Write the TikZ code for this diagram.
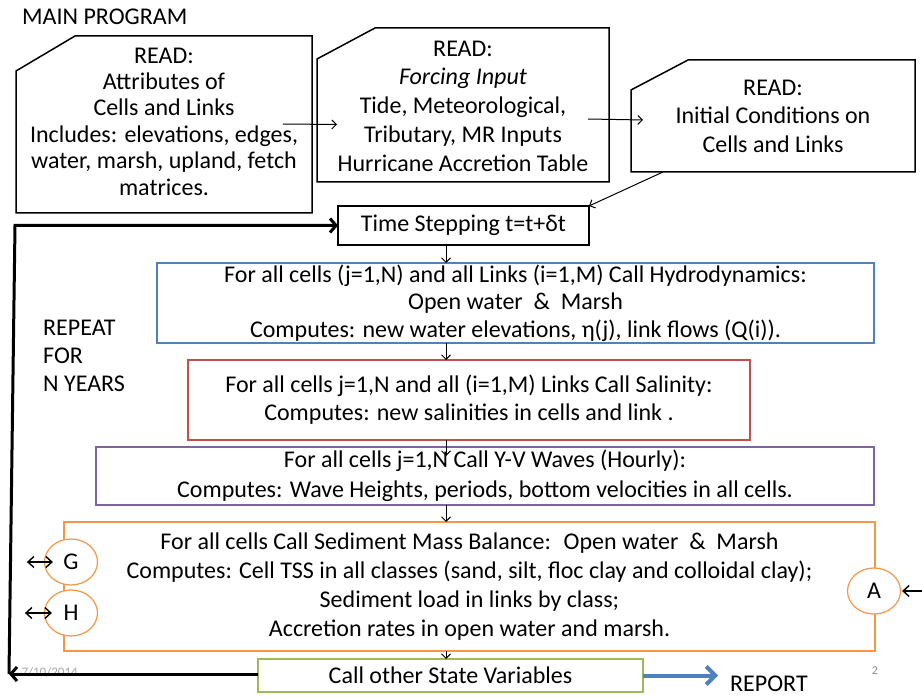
\documentclass[tikz,border=0pt]{standalone}
\usepackage{fontspec}
\setmainfont{Carlito}
\usetikzlibrary{arrows.meta,shapes.geometric}
\definecolor{hydroblue}{HTML}{4F81BD}
\definecolor{salred}{HTML}{C0504D}
\definecolor{wavepurple}{HTML}{8064A2}
\definecolor{sedorange}{HTML}{F79646}
\definecolor{stategreen}{HTML}{9BBB59}
\begin{document}
\begin{tikzpicture}[x=1pt,y=-1pt,
  txt/.style={font=\fontsize{24}{26.4}\selectfont, align=center, text=black, inner sep=0pt},
  holder/.style={inner sep=0pt, outer sep=0pt},
  cardline/.style={draw=black, line width=1.5pt},
  flowbox/.style={draw, line width=1.5pt, fill=white, inner sep=0pt, outer sep=0pt,
    font=\fontsize{24}{28}\selectfont, align=center},
  link/.style={-{Straight Barb[length=4.5pt,width=9pt]}, line width=1pt},
  dlink/.style={{Straight Barb[length=6pt,width=11pt]}-{Straight Barb[length=6pt,width=11pt]}, line width=1.4pt},
  loopline/.style={line width=3pt, -{Straight Barb[length=6pt,width=14pt,line width=3pt]}},
  port/.style={ellipse, draw=sedorange, line width=1.2pt, fill=white,
    minimum width=53pt, minimum height=46pt, inner sep=0pt, font=\fontsize{24}{24}\selectfont},
]
\useasboundingbox (0,0) rectangle (922,698);

% title and side label
\node[txt, anchor=west] (title) at (22,17) {MAIN PROGRAM};
\node[txt, anchor=north west, align=left, font=\fontsize{24}{28}\selectfont] (repeat) at (43,320)
  {REPEAT\\FOR\\N YEARS};

% three input cards (corner cut at top left)
\node[holder, minimum width=296pt, minimum height=177pt] (attr) at (164,124.5) {};
\node[txt] at ([yshift=3pt]attr.center) {READ:\\Attributes of\\Cells and Links\\Includes: elevations, edges,\\water, marsh, upland, fetch\\matrices.};
\draw[cardline] ([yshift=-35pt]attr.north west) -- ([xshift=59pt]attr.north west)
  -- (attr.north east) -- (attr.south east) -- (attr.south west) -- cycle;

\node[holder, minimum width=292pt, minimum height=154pt] (force) at (463,105) {};
\node[txt, font=\fontsize{24}{28.8}\selectfont] at ([yshift=-1pt]force.center)
  {READ:\\\textit{Forcing Input}\\Tide, Meteorological,\\Tributary, MR Inputs\\Hurricane Accretion Table};
\draw[cardline] ([yshift=-31pt]force.north west) -- ([xshift=58pt]force.north west)
  -- (force.north east) -- (force.south east) -- (force.south west) -- cycle;

\node[holder, minimum width=284pt, minimum height=112pt] (init) at (773,116) {};
\node[txt, font=\fontsize{24}{28.5}\selectfont] at (init.center)
  {READ:\\Initial Conditions on\\Cells and Links};
\draw[cardline] ([yshift=-30pt]init.north west) -- ([xshift=57pt]init.north west)
  -- (init.north east) -- (init.south east) -- (init.south west) -- cycle;

% time loop
\node[flowbox, draw=black, minimum width=251pt, minimum height=39pt] (ts) at (463.5,225.5)
  {Time Stepping t=t+δt};

\node[flowbox, draw=hydroblue, minimum width=717pt, minimum height=80pt,
  font=\fontsize{24}{27.5}\selectfont] (hydro) at (515.5,303)
  {For all cells (j=1,N) and all Links (i=1,M) Call Hydrodynamics:\\
   Open water \ \& \ Marsh\\
   Computes: new water elevations, η(j), link flows (Q(i)).};

\node[flowbox, draw=salred, minimum width=562pt, minimum height=80pt] (sal) at (469,400)
  {For all cells j=1,N and all (i=1,M) Links Call Salinity:\\
   Computes: new salinities in cells and link .};

\node[flowbox, draw=wavepurple, minimum width=778pt, minimum height=58pt,
  font=\fontsize{24}{30}\selectfont] (wave) at (485,476)
  {For all cells j=1,N Call Y-V Waves (Hourly):\\
   Computes: Wave Heights, periods, bottom velocities in all cells.};

\node[flowbox, draw=sedorange, minimum width=811pt, minimum height=129pt,
  font=\fontsize{24}{29}\selectfont] (sed) at (469.5,586.5)
  {For all cells Call Sediment Mass Balance: \ Open water \ \& \ Marsh\\
   Computes: Cell TSS in all classes (sand, silt, floc clay and colloidal clay);\\
   Sediment load in links by class;\\
   Accretion rates in open water and marsh.};

\node[flowbox, draw=stategreen, minimum width=385pt, minimum height=33pt] (state) at (450.5,675.5)
  {Call other State Variables};

% exchange ports on the sediment box
\node[port] (G) at (71,562) {G};
\node[port] (H) at (71,613) {H};
\node[port] (A) at (874,591) {A};
\draw[dlink] ([xshift=-17pt]G.west) -- ([xshift=9pt]G.west);
\draw[dlink] ([xshift=-19pt]H.west) -- ([xshift=8pt]H.west);
\draw[dlink] ([xshift=1pt]A.east) -- ++(30,0);

% footer marks
\node[font=\fontsize{13}{14}\selectfont, text=black!35, anchor=west] (date) at (18,672) {7/10/2014};
\node[font=\fontsize{12}{14}\selectfont, text=black!45] (page) at (875,671) {2};

% reading order of the inputs
\draw[link] ([xshift=-29pt,yshift=0.5pt]attr.east) -- ([xshift=20pt]force.west |- attr.east);
\draw[link] ([xshift=-21pt,yshift=-14pt]force.east) -- ([xshift=12pt,yshift=-4pt]init.west);
\draw[link] ([xshift=-110pt]init.south) -- (ts.north east);

% main sequence down the spine
\coordinate (spine) at (446,0);
\draw[link] (spine |- ts.south) -- (spine |- hydro.north);
\draw[link] (spine |- hydro.south) -- (spine |- sal.north);
\draw[link] (spine |- sal.south) -- ([yshift=-9pt]spine |- wave.north);
\draw[link] (spine |- wave.south) -- (spine |- sed.north);
\draw[link] (spine |- sed.south) -- (spine |- state.north);

% yearly repeat loop
\coordinate (loopbottom) at (9,674);
\coordinate (looptop) at (15,225.5);
\draw[loopline] (state.west |- loopbottom) -- (loopbottom);
\draw[loopline] (loopbottom) -- (looptop) -- (ts.west);

% output
\node[txt, anchor=west] (report) at (730,684) {REPORT};
\draw[hydroblue, line width=4pt, -{Straight Barb[length=9pt,width=18pt,line width=4pt]}]
  (state.east) -- ([xshift=-12pt]report.west |- state.east);
\end{tikzpicture}
\end{document}
